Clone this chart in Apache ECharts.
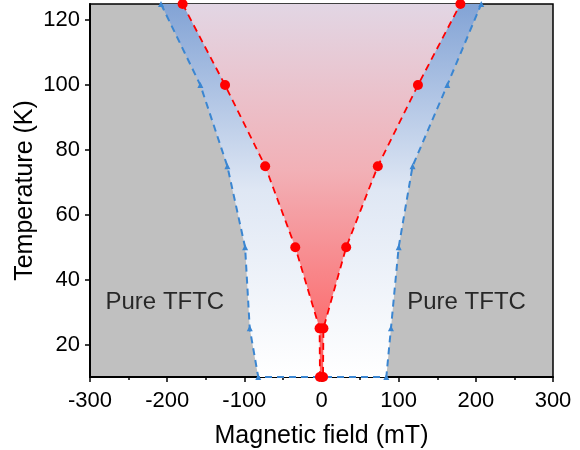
<!DOCTYPE html>
<html lang="en">
  <head>
    <meta charset="UTF-8" />
    <title>Phase diagram</title>
    <style>
      body {
        margin: 0;
      }
      #main {
        width: 580px;
        height: 450px;
      }
    </style>
  </head>
  <body>
    <div id="main"></div>
    <script src="https://cdn.jsdelivr.net/npm/echarts@6/dist/echarts.min.js"></script>

    <script>
      // temperatures (K) of the measured points, bottom to top
      const temps = [10, 25, 50, 75, 100, 125];
      // outer (blue) boundary, field in mT
      const blueLeft = [-82, -93, -99, -122, -157, -208];
      const blueRight = [84, 90, 100, 118, 163, 207];
      // inner (red) boundary, field in mT
      const redLeft = [-2, -2.5, -34, -73, -125, -180];
      const redRight = [2, 2.5, 32, 73, 125, 180];

      const yMajor = [20, 40, 60, 80, 100, 120];
      const yMinor = [30, 50, 70, 90, 110];

      const regionLabels = [
        { name: "Pure TFTC", value: [-203, 33] },
        { name: "Pure TFTC", value: [188, 33] },
      ];

      // left side top->bottom, then right side bottom->top
      function outline(left, right) {
        const pts = [];
        for (let i = temps.length - 1; i >= 0; i--) pts.push([left[i], temps[i]]);
        for (let i = 0; i < temps.length; i++) pts.push([right[i], temps[i]]);
        return pts;
      }

      const bluePts = outline(blueLeft, blueRight);
      const redPts = outline(redLeft, redRight);

      function polygon(points, stops, z) {
        return {
          type: "custom",
          data: points,
          silent: true,
          clip: true,
          z: z,
          renderItem: function (params, api) {
            if (params.dataIndex !== 0) return;
            return {
              type: "polygon",
              shape: { points: points.map((p) => api.coord(p)) },
              style: {
                fill: new echarts.graphic.LinearGradient(0, 0, 0, 1, stops),
              },
            };
          },
        };
      }

      const font = "Liberation Sans";
      const myChart = echarts.init(document.getElementById("main"));

      const option = {
        animation: false,
        grid: {
          left: 90,
          right: 27,
          top: 4,
          bottom: 73,
          outerBoundsMode: "none",
          show: true,
          backgroundColor: "#c0c0c0",
          borderColor: "#000",
          borderWidth: 1.5,
        },
        xAxis: {
          type: "value",
          min: -300,
          max: 300,
          interval: 100,
          name: "Magnetic field (mT)",
          nameLocation: "middle",
          nameGap: 47,
          nameMoveOverlap: false,
          nameTextStyle: { fontFamily: font, fontSize: 25, color: "#000" },
          axisLine: { onZero: false, lineStyle: { color: "#000", width: 2 } },
          axisTick: { inside: false, length: 5, lineStyle: { width: 1.5 } },
          minorTick: { show: true, splitNumber: 2, length: 3, lineStyle: { color: "#000", width: 1.5 } },
          splitLine: { show: false },
          axisLabel: { fontFamily: font, fontSize: 22, color: "#000", margin: 13 },
        },
        yAxis: [
          {
            type: "value",
            min: 10,
            max: 125,
            name: "Temperature (K)",
            nameLocation: "middle",
            nameGap: 52,
            nameMoveOverlap: false,
            nameTextStyle: { fontFamily: font, fontSize: 25, color: "#000" },
            axisLine: { onZero: false, lineStyle: { color: "#000", width: 2 } },
            axisTick: { inside: false, length: 5, customValues: yMajor, lineStyle: { width: 1.5 } },
            splitLine: { show: false },
            axisLabel: {
              fontFamily: font,
              fontSize: 22,
              color: "#000",
              margin: 10,
              customValues: yMajor,
            },
          },
          {
            type: "value",
            min: 10,
            max: 125,
            position: "left",
            axisLine: { show: false },
            axisTick: { inside: false, length: 3, customValues: yMinor, lineStyle: { color: "#000", width: 1.5 } },
            axisLabel: { show: false },
            splitLine: { show: false },
          },
        ],
        series: [
          polygon(
            bluePts,
            [
              { offset: 0, color: "#82a3d5" },
              { offset: 0.5, color: "#dfe7f4" },
              { offset: 1, color: "#ffffff" },
            ],
            1
          ),
          polygon(
            redPts,
            [
              { offset: 0, color: "#e2d6e4" },
              { offset: 0.45, color: "#f2b0b6" },
              { offset: 1, color: "#ff5a5a" },
            ],
            2
          ),
          {
            type: "line",
            data: bluePts,
            z: 3,
            symbol: "triangle",
            symbolSize: 6,
            itemStyle: { color: "#3b86d1" },
            lineStyle: { color: "#3b86d1", width: 2, type: [7, 5] },
          },
          {
            type: "line",
            data: redPts,
            z: 4,
            symbol: "circle",
            symbolSize: 10,
            itemStyle: { color: "#ff0000" },
            lineStyle: { color: "#ff0000", width: 1.8, type: [7, 5] },
          },
          {
            type: "scatter",
            data: regionLabels,
            symbolSize: 0,
            z: 5,
            label: {
              show: true,
              position: "inside",
              formatter: "{b}",
              fontFamily: font,
              fontSize: 24,
              color: "#000",
              textBorderWidth: 0,
            },
          },
        ],
      };
      myChart.setOption(option);
    </script>
  </body>
</html>
